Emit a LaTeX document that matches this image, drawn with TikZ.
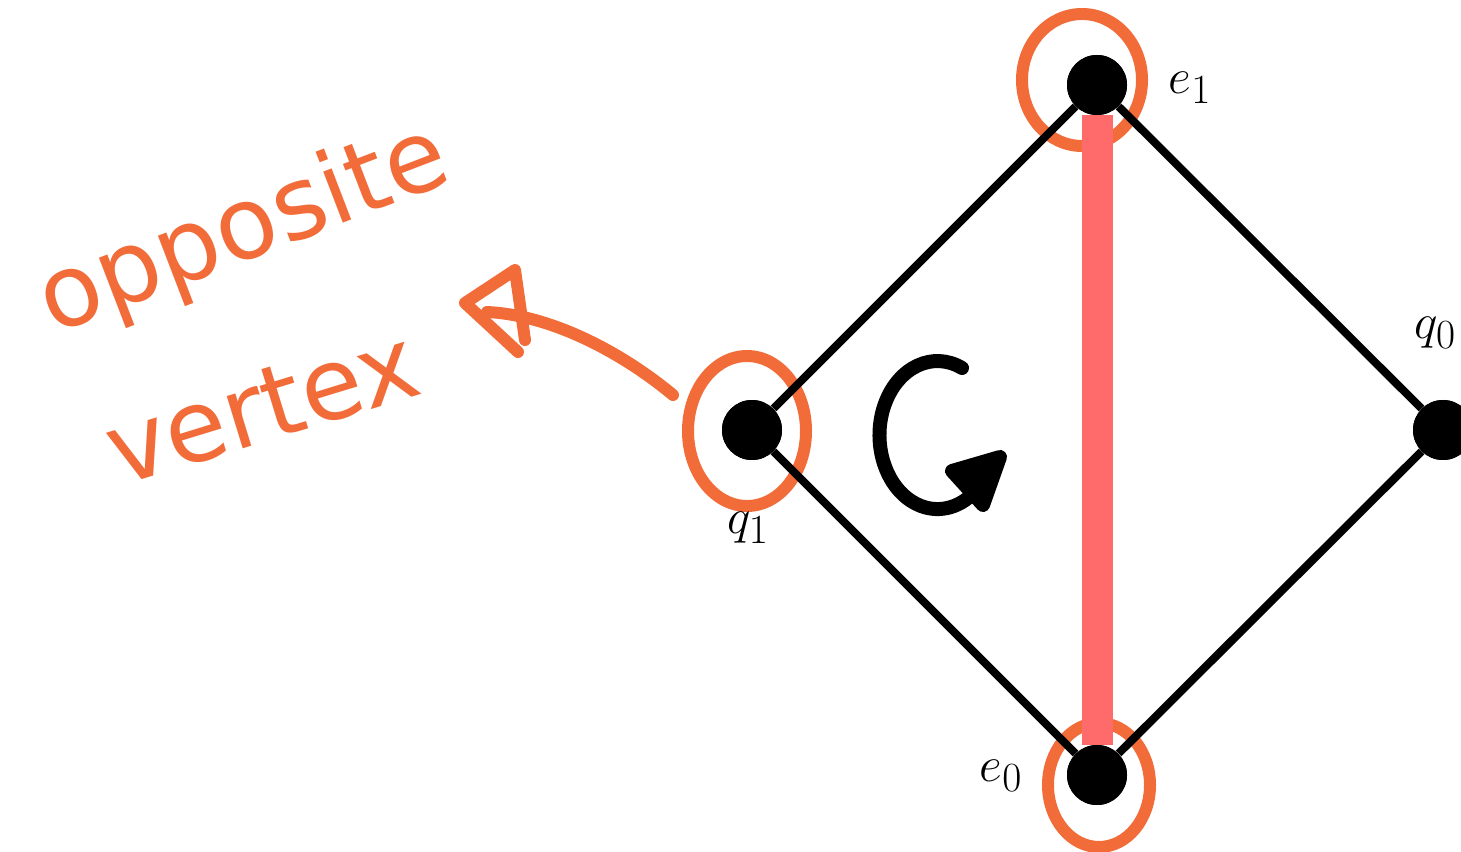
\documentclass[tikz,border=0pt]{standalone}
\usepackage{fontspec}
\newfontfamily\handfont{DejaVu Sans}
\usetikzlibrary{arrows.meta}
\definecolor{hand}{HTML}{F26C3A}
\definecolor{edgepink}{HTML}{FF6B6B}
\begin{document}
\begin{tikzpicture}[x=0.5pt,y=0.5pt,
  dot/.style={circle,fill=black,inner sep=0pt,minimum size=30pt},
  edge/.style={draw=black,line width=4pt},
  pinkedge/.style={draw=edgepink,line width=15.5pt},
  ring/.style={draw=hand,line width=6pt},
  handline/.style={draw=hand,line width=6pt,line cap=round,line join=round},
  handtext/.style={text=hand,font=\handfont\fontsize{50}{60}\selectfont,inner sep=0pt},
  lbl/.style={font=\fontsize{30}{36}\selectfont,inner sep=0pt},
  turn/.style={draw=black,line width=7pt,line cap=round,line join=round}
]
\useasboundingbox (0,0) rectangle (1461,851);
\clip (0,0) rectangle (1461,851);

% vertices
\node[dot] (e1) at (1097,766) {};
\node[dot] (q1) at (752,421) {};
\node[dot] (q0) at (1443,421) {};
\node[dot] (e0) at (1097,76) {};

% orange rings (behind)
\draw[ring] (1082,771) ellipse [x radius=60, y radius=66];
\draw[ring] (747,420) ellipse [x radius=59, y radius=75];
\draw[ring] (1099,66) ellipse [x radius=51, y radius=62];

% highlighted edge
\draw[pinkedge] (e1) -- (e0);

% rhombus edges
\draw[edge] (e1) -- (q1);
\draw[edge] (q1) -- (e0);
\draw[edge] (e0) -- (q0);
\draw[edge] (q0) -- (e1);

% dots on top
\node[dot] at (e1) {};
\node[dot] at (q1) {};
\node[dot] at (q0) {};
\node[dot] at (e0) {};

% labels
\node[lbl] (le1) at (1190,763) {$e_1$};
\node[lbl] (lq1) at (748,323) {$q_1$};
\node[lbl,anchor=west] (lq0) at (1414,518) {$q_0$};
\node[lbl] (le0) at (1001,75) {$e_0$};

% rotation symbol
\draw[turn] (962,483)
  arc[start angle=65, end angle=306, x radius=58, y radius=74];
\draw[turn,fill=black] (952,380) -- (1000,394) -- (983,346) -- cycle;

% annotation
\node[handtext,rotate=21] (opp) at (244,619) {opposite};
\node[handtext,rotate=17] (vtx) at (262,444) {vertex};
\coordinate (tail) at (673,456);
\coordinate (tip) at (487,539);
\draw[handline] (tail) .. controls (620,500) and (550,536) .. (tip);
\draw[handline] (518,499) -- (465,548) -- (515,581) -- (525,511);
\end{tikzpicture}
\end{document}
